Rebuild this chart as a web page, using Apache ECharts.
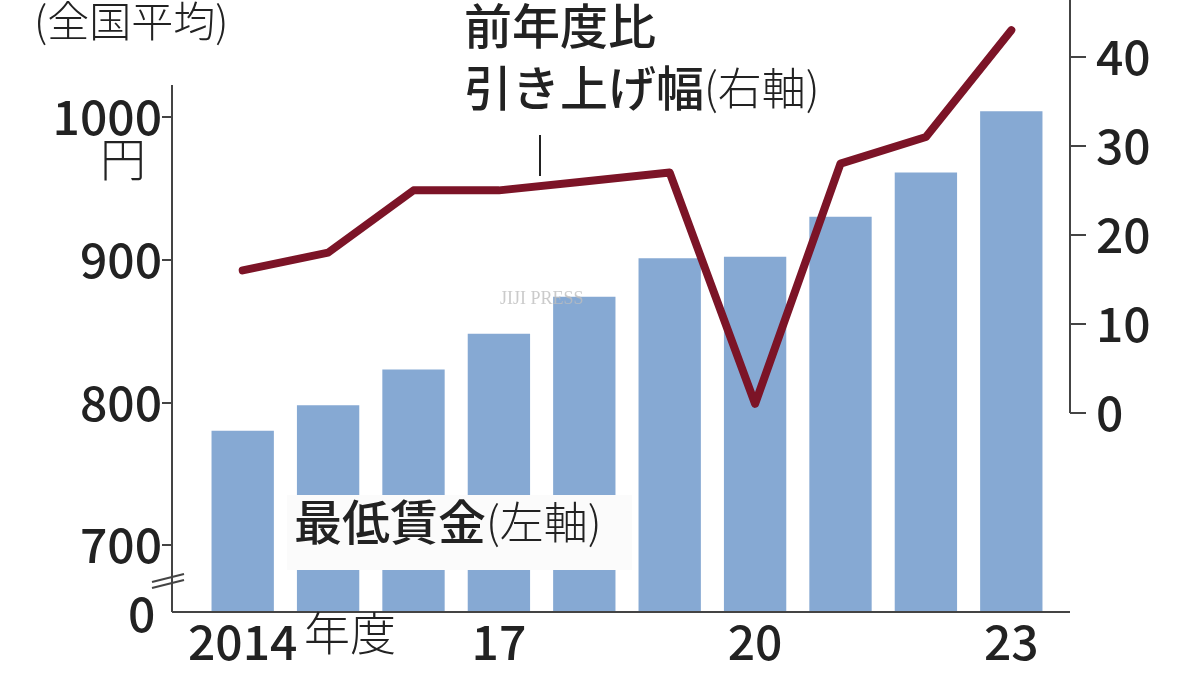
<!DOCTYPE html>
<html><head><meta charset="utf-8">
<script src="https://cdn.jsdelivr.net/npm/echarts@6/dist/echarts.min.js"></script>
<style>html,body{margin:0;background:#fff}#main{width:1200px;height:675px}</style>
</head><body><div id="main"></div>
<script>
var myChart = echarts.init(document.getElementById('main'));

var years = ['2014', '2015', '2016', '2017', '2018', '2019', '2020', '2021', '2022', '2023'];
var yearLabels = ['2014', '', '', '17', '', '', '20', '', '', '23'];
var wage = [780, 798, 823, 848, 874, 901, 902, 930, 961, 1004];
var raise = [16, 18, 25, 25, 26, 27, 1, 28, 31, 43];
var leftTicks = [700, 800, 900, 1000];
var rightTicks = [0, 10, 20, 30, 40];

var font = '"Noto Sans CJK JP", sans-serif';
var ink = '#222';
var heavy = { fontSize: 48, fontWeight: 500, fontFamily: font, fill: ink };
var light = { fontSize: 44, fontWeight: 300, fontFamily: font, fill: ink };

var option = {
    backgroundColor: '#fff',
    animation: false,
    grid: { left: 200, right: 146, top: 0, bottom: 63 },
    xAxis: {
        type: 'category',
        data: years,
        axisLine: { show: false },
        axisTick: { show: false },
        axisLabel: {
            interval: 0,
            margin: 6,
            fontSize: 48,
            fontWeight: 500,
            fontFamily: font,
            color: ink,
            formatter: function (v, i) { return yearLabels[i]; }
        }
    },
    yAxis: [
        {
            type: 'value',
            min: 653, max: 1082,
            offset: 28,
            splitLine: { show: false },
            axisLine: { show: false },
            axisTick: { show: true, customValues: leftTicks, length: 10, lineStyle: { color: '#444', width: 2 } },
            axisLabel: {
                customValues: leftTicks, margin: 10,
                fontSize: 48, fontWeight: 500, fontFamily: font, color: ink,
                formatter: function (v) { return String(v); }
            }
        },
        {
            type: 'value',
            min: -22.4, max: 46.4,
            offset: 16,
            splitLine: { show: false },
            axisLine: { show: false },
            axisTick: { show: true, customValues: rightTicks, length: 16, lineStyle: { color: '#444', width: 2 } },
            axisLabel: {
                customValues: rightTicks, margin: 26,
                fontSize: 48, fontWeight: 500, fontFamily: font, color: ink
            }
        }
    ],
    graphic: [
        { type: 'line', z: 50, shape: { x1: 172, y1: 612, x2: 1070, y2: 612 }, style: { stroke: '#444', lineWidth: 2 } },
        { type: 'line', z: 50, shape: { x1: 172, y1: 85, x2: 172, y2: 612 }, style: { stroke: '#444', lineWidth: 2 } },
        { type: 'line', z: 50, shape: { x1: 1070, y1: 0, x2: 1070, y2: 413 }, style: { stroke: '#444', lineWidth: 2 } },
        { type: 'line', z: 50, shape: { x1: 540, y1: 135, x2: 540, y2: 176 }, style: { stroke: '#222', lineWidth: 2 } },
        { type: 'line', z: 50, shape: { x1: 152, y1: 582, x2: 184, y2: 574 }, style: { stroke: '#444', lineWidth: 2 } },
        { type: 'line', z: 50, shape: { x1: 152, y1: 588, x2: 184, y2: 580 }, style: { stroke: '#444', lineWidth: 2 } },
        { type: 'text', z: 50, left: 128, top: 590, style: { text: '0', fill: ink, font: '500 48px ' + font } },
        { type: 'text', z: 50, left: 304, top: 610, style: { text: '年度', fill: ink, font: '300 46px ' + font } },
        { type: 'text', z: 50, left: 34, top: 0, style: { text: '(全国平均)', fill: ink, font: '300 42px ' + font } },
        { type: 'text', z: 50, left: 464, top: 2, style: { text: '前年度比', fill: ink, font: '500 48px ' + font } },
        { type: 'text', z: 50, left: 464, top: 64, style: {
            text: '{a|引き上げ幅}{b|(右軸)}', rich: { a: heavy, b: light } } },
        { type: 'text', z: 50, left: 100, top: 136, style: { text: '円', fill: ink, font: '300 46px ' + font } },
        { type: 'text', z: 50, left: 500, top: 290, style: { text: 'JIJI PRESS', fill: 'rgba(190,190,190,0.8)', font: '18px serif', letterSpacing: 8 } },
        { type: 'rect', z: 60, shape: { x: 287, y: 495, width: 345, height: 75 }, style: { fill: '#fbfbfb' } },
        { type: 'text', z: 61, left: 294, top: 498, style: {
            text: '{a|最低賃金}{b|(左軸)}', rich: { a: heavy, b: light } } }
    ],
    series: [
        {
            type: 'bar',
            data: wage,
            yAxisIndex: 0,
            barCategoryGap: '27%',
            itemStyle: { color: '#86a9d3' },
            z: 1
        },
        {
            type: 'line',
            data: raise,
            yAxisIndex: 1,
            symbol: 'none',
            lineStyle: { color: '#7c1427', width: 8, join: 'round', cap: 'round' },
            z: 3
        }
    ]
};

myChart.setOption(option);
</script>
</body></html>
